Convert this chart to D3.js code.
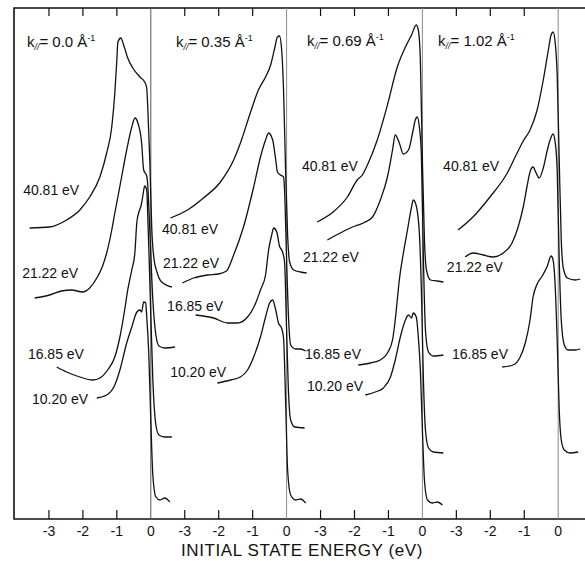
<!DOCTYPE html>
<html lang="en">
<head>
  <meta charset="UTF-8" />
  <title>Photoemission spectra vs k parallel</title>
  <script src="https://d3js.org/d3.v7.min.js"></script>
  <style>
    html, body { margin: 0; padding: 0; background: #fff; }
    svg { display: block; font-family: 'Liberation Sans', 'DejaVu Sans', sans-serif; }
    .spec { fill: none; stroke: #111; stroke-width: 1.3; stroke-linejoin: round; }
    .zero { stroke: #8a8a8a; stroke-width: 1; }
    .frame { stroke: #111; stroke-width: 1.6; fill: none; }
    .tick { stroke: #111; stroke-width: 1.2; }
    .lbl { fill: #111; font-size: 14px; }
    .ticklbl { fill: #111; font-size: 14px; text-anchor: middle; }
  </style>
</head>
<body>
  <svg id="chart" width="585" height="561"></svg>
  <script>
    // panel parameters and labels
    const panelK = ["0.0", "0.35", "0.69", "1.02"];
    const photonEnergies = ["40.81", "21.22", "16.85", "10.20"];
    const xTicks = [-3, -2, -1, 0];

    // spectra: [initial state energy (eV), intensity (arb. units, offset included)]
    // k = 0.0
    const k000_4081 = [[-3.57,291],[-2.98,292],[-2.48,299],[-2.09,309],[-1.80,322],[-1.50,342],[-1.30,366],[-1.15,392],[-1.06,426],[-1.00,459],[-0.97,477],[-0.88,481],[-0.80,474],[-0.68,461],[-0.53,451],[-0.32,442],[-0.18,437],[-0.12,431],[-0.09,412],[-0.03,359],[0.03,289],[0.09,261],[0.18,247],[0.32,237],[0.62,232]];
    const k000_2122 = [[-3.42,221],[-2.98,224],[-2.63,228],[-2.33,229],[-2.01,227],[-1.80,231],[-1.59,241],[-1.42,253],[-1.30,266],[-1.15,289],[-1.06,306],[-0.97,322],[-0.86,342],[-0.71,369],[-0.56,392],[-0.47,401],[-0.38,396],[-0.27,376],[-0.21,349],[-0.12,343],[-0.09,334],[-0.03,289],[0.06,219],[0.15,184],[0.24,173],[0.41,171],[0.71,172]];
    const k000_1685 = [[-2.77,152],[-2.48,147],[-2.09,142],[-1.71,139],[-1.50,141],[-1.27,149],[-1.06,162],[-0.91,182],[-0.77,209],[-0.68,229],[-0.56,249],[-0.47,266],[-0.41,297],[-0.35,307],[-0.29,313],[-0.24,322],[-0.18,333],[-0.12,329],[-0.09,304],[-0.03,239],[0.06,139],[0.15,94],[0.24,84],[0.41,82],[0.62,82]];
    const k000_1020 = [[-1.59,121],[-1.30,124],[-1.06,134],[-0.91,149],[-0.71,176],[-0.56,192],[-0.41,207],[-0.32,209],[-0.27,207],[-0.21,217],[-0.15,216],[-0.12,202],[-0.06,166],[0.00,99],[0.06,44],[0.15,22],[0.27,19],[0.41,21],[0.56,17]];
    // k = 0.35
    const k035_4081 = [[-3.42,301],[-2.92,309],[-2.45,321],[-1.95,337],[-1.56,359],[-1.36,376],[-1.06,407],[-0.83,429],[-0.62,442],[-0.47,454],[-0.35,471],[-0.27,482],[-0.21,483],[-0.15,471],[-0.09,429],[-0.03,349],[0.03,284],[0.09,257],[0.21,249],[0.41,247],[0.59,246]];
    const k035_2122 = [[-3.07,236],[-2.74,241],[-2.33,244],[-2.01,245],[-1.77,248],[-1.56,264],[-1.27,292],[-0.97,332],[-0.77,362],[-0.62,379],[-0.53,386],[-0.41,379],[-0.32,359],[-0.27,347],[-0.18,344],[-0.09,342],[-0.06,329],[0.00,259],[0.06,199],[0.12,174],[0.27,170],[0.41,170],[0.56,168]];
    const k035_1685 = [[-2.68,204],[-2.15,201],[-1.74,196],[-1.45,196],[-1.15,202],[-0.91,216],[-0.77,229],[-0.62,244],[-0.53,269],[-0.44,284],[-0.38,291],[-0.29,287],[-0.21,273],[-0.12,267],[-0.06,257],[0.00,189],[0.06,124],[0.12,99],[0.24,92],[0.53,91]];
    const k035_1020 = [[-2.04,136],[-1.65,139],[-1.36,142],[-1.15,149],[-0.97,162],[-0.77,182],[-0.62,202],[-0.50,216],[-0.41,219],[-0.32,209],[-0.24,196],[-0.15,191],[-0.09,181],[-0.03,119],[0.03,49],[0.12,24],[0.27,19],[0.41,20],[0.56,16]];
    // k = 0.69
    const k069_4081 = [[-3.10,297],[-2.63,307],[-2.21,322],[-1.92,339],[-1.77,344],[-1.62,354],[-1.33,379],[-1.03,414],[-0.74,452],[-0.50,472],[-0.32,484],[-0.18,494],[-0.12,489],[-0.06,459],[0.00,359],[0.06,279],[0.12,249],[0.24,239],[0.44,238],[0.62,237]];
    const k069_2122 = [[-2.80,279],[-2.42,286],[-2.06,292],[-1.74,296],[-1.47,302],[-1.24,319],[-1.03,342],[-0.88,369],[-0.80,384],[-0.68,376],[-0.56,365],[-0.41,369],[-0.29,386],[-0.21,399],[-0.15,402],[-0.09,392],[-0.03,364],[0.03,259],[0.09,189],[0.18,167],[0.32,163],[0.62,164]];
    const k069_1685 = [[-1.89,154],[-1.53,156],[-1.24,159],[-1.03,166],[-0.88,179],[-0.80,199],[-0.74,219],[-0.68,239],[-0.56,266],[-0.44,289],[-0.32,312],[-0.27,319],[-0.18,313],[-0.09,286],[-0.03,229],[0.03,139],[0.09,89],[0.18,71],[0.32,67],[0.62,66]];
    const k069_1020 = [[-1.68,124],[-1.39,127],[-1.15,131],[-0.94,142],[-0.80,159],[-0.65,182],[-0.50,199],[-0.41,204],[-0.32,201],[-0.27,206],[-0.18,202],[-0.12,182],[-0.06,149],[0.00,89],[0.06,39],[0.15,19],[0.29,16],[0.44,17],[0.59,14]];
    // k = 1.02
    const k102_4081 = [[-2.95,289],[-2.51,302],[-2.01,322],[-1.50,346],[-1.21,366],[-1.03,378],[-0.83,389],[-0.62,409],[-0.44,439],[-0.29,469],[-0.21,484],[-0.15,487],[-0.09,477],[-0.03,444],[0.03,359],[0.09,279],[0.15,251],[0.27,241],[0.50,239],[0.65,240]];
    const k102_2122 = [[-2.74,262],[-2.51,266],[-2.21,264],[-1.92,262],[-1.62,266],[-1.36,276],[-1.18,292],[-1.03,312],[-0.91,334],[-0.83,347],[-0.74,352],[-0.65,346],[-0.56,341],[-0.44,351],[-0.32,369],[-0.24,379],[-0.15,385],[-0.09,377],[-0.03,349],[0.03,259],[0.09,199],[0.18,174],[0.29,169],[0.50,169],[0.65,170]];
    const k102_1685 = [[-1.65,152],[-1.33,154],[-1.12,162],[-0.97,176],[-0.83,199],[-0.74,222],[-0.62,235],[-0.47,243],[-0.32,253],[-0.21,263],[-0.15,259],[-0.09,234],[-0.03,179],[0.03,109],[0.09,79],[0.18,69],[0.35,66],[0.59,67]];

    const spectra = [
      [k000_4081, k000_2122, k000_1685, k000_1020],
      [k035_4081, k035_2122, k035_1685, k035_1020],
      [k069_4081, k069_2122, k069_1685, k069_1020],
      [k102_4081, k102_2122, k102_1685]
    ];

    // label anchors [energy, intensity] in each panel
    const curveLabelAt = [
      [[-3.76,324],[-3.79,241],[-3.62,160],[-3.50,115]],
      [[-3.67,285],[-3.64,251],[-3.52,208],[-3.43,142]],
      [[-3.55,348],[-3.52,257],[-3.46,160],[-3.40,128]],
      [[-3.39,348],[-3.28,247],[-3.13,160]]
    ];
    const titleAt = [[-3.65,472],[-3.26,472],[-3.40,473],[-3.54,473]];

    const svg = d3.select("#chart");
    const plotLeft = 15, panelW = 135.8, plotTop = 8, plotBottom = 519;
    const y = d3.scaleLinear().domain([0, 511]).range([plotBottom, plotTop]);

    // frame
    svg.append("path").attr("class", "frame")
      .attr("d", `M585,${plotTop}H14V${plotBottom}H585`);

    panelK.forEach((k, p) => {
      const x = d3.scaleLinear().domain([-4, 0])
        .range([plotLeft + p * panelW, plotLeft + (p + 1) * panelW]);
      const g = svg.append("g");

      g.append("line").attr("class", "zero")
        .attr("x1", x(0)).attr("x2", x(0))
        .attr("y1", plotTop).attr("y2", plotBottom)
        .style("stroke", p === 0 ? "#555" : null);

      const minor = xTicks.filter(d => d !== 0);
      g.selectAll(".tb").data(minor).join("line").attr("class", "tick tb")
        .attr("x1", d => x(d)).attr("x2", d => x(d))
        .attr("y1", plotBottom).attr("y2", plotBottom - 9);
      g.selectAll(".tt").data(minor).join("line").attr("class", "tick tt")
        .attr("x1", d => x(d)).attr("x2", d => x(d))
        .attr("y1", plotTop).attr("y2", plotTop + 8);
      g.selectAll(".ticklbl").data(xTicks).join("text").attr("class", "ticklbl")
        .attr("x", d => x(d)).attr("y", 536)
        .text(d => d === 0 ? "0" : "-" + Math.abs(d));

      const line = d3.line().x(d => x(d[0])).y(d => y(d[1])).curve(d3.curveMonotoneX);
      g.selectAll(".spec").data(spectra[p]).join("path").attr("class", "spec")
        .attr("d", line);

      g.selectAll(".lbl").data(spectra[p]).join("text").attr("class", "lbl")
        .attr("x", (d, i) => x(curveLabelAt[p][i][0]))
        .attr("y", (d, i) => y(curveLabelAt[p][i][1]))
        .text((d, i) => photonEnergies[i] + " eV");

      const t = g.append("text").attr("class", "ttl").style("font-size", "15px").style("fill", "#111")
        .attr("x", x(titleAt[p][0])).attr("y", y(titleAt[p][1]));
      t.append("tspan").text("k");
      t.append("tspan").attr("dy", 3).style("font-size", "9px").style("font-style", "italic").text("//");
      t.append("tspan").attr("dy", -3).text("= " + k + " Å");
      t.append("tspan").attr("dy", -6).style("font-size", "9px").text("-1");
    });

    svg.append("text").attr("x", 302).attr("y", 556)
      .attr("text-anchor", "middle")
      .style("font-size", "17px").style("letter-spacing", "0.6px").style("fill", "#111")
      .text("INITIAL STATE ENERGY (eV)");
  </script>
</body>
</html>
